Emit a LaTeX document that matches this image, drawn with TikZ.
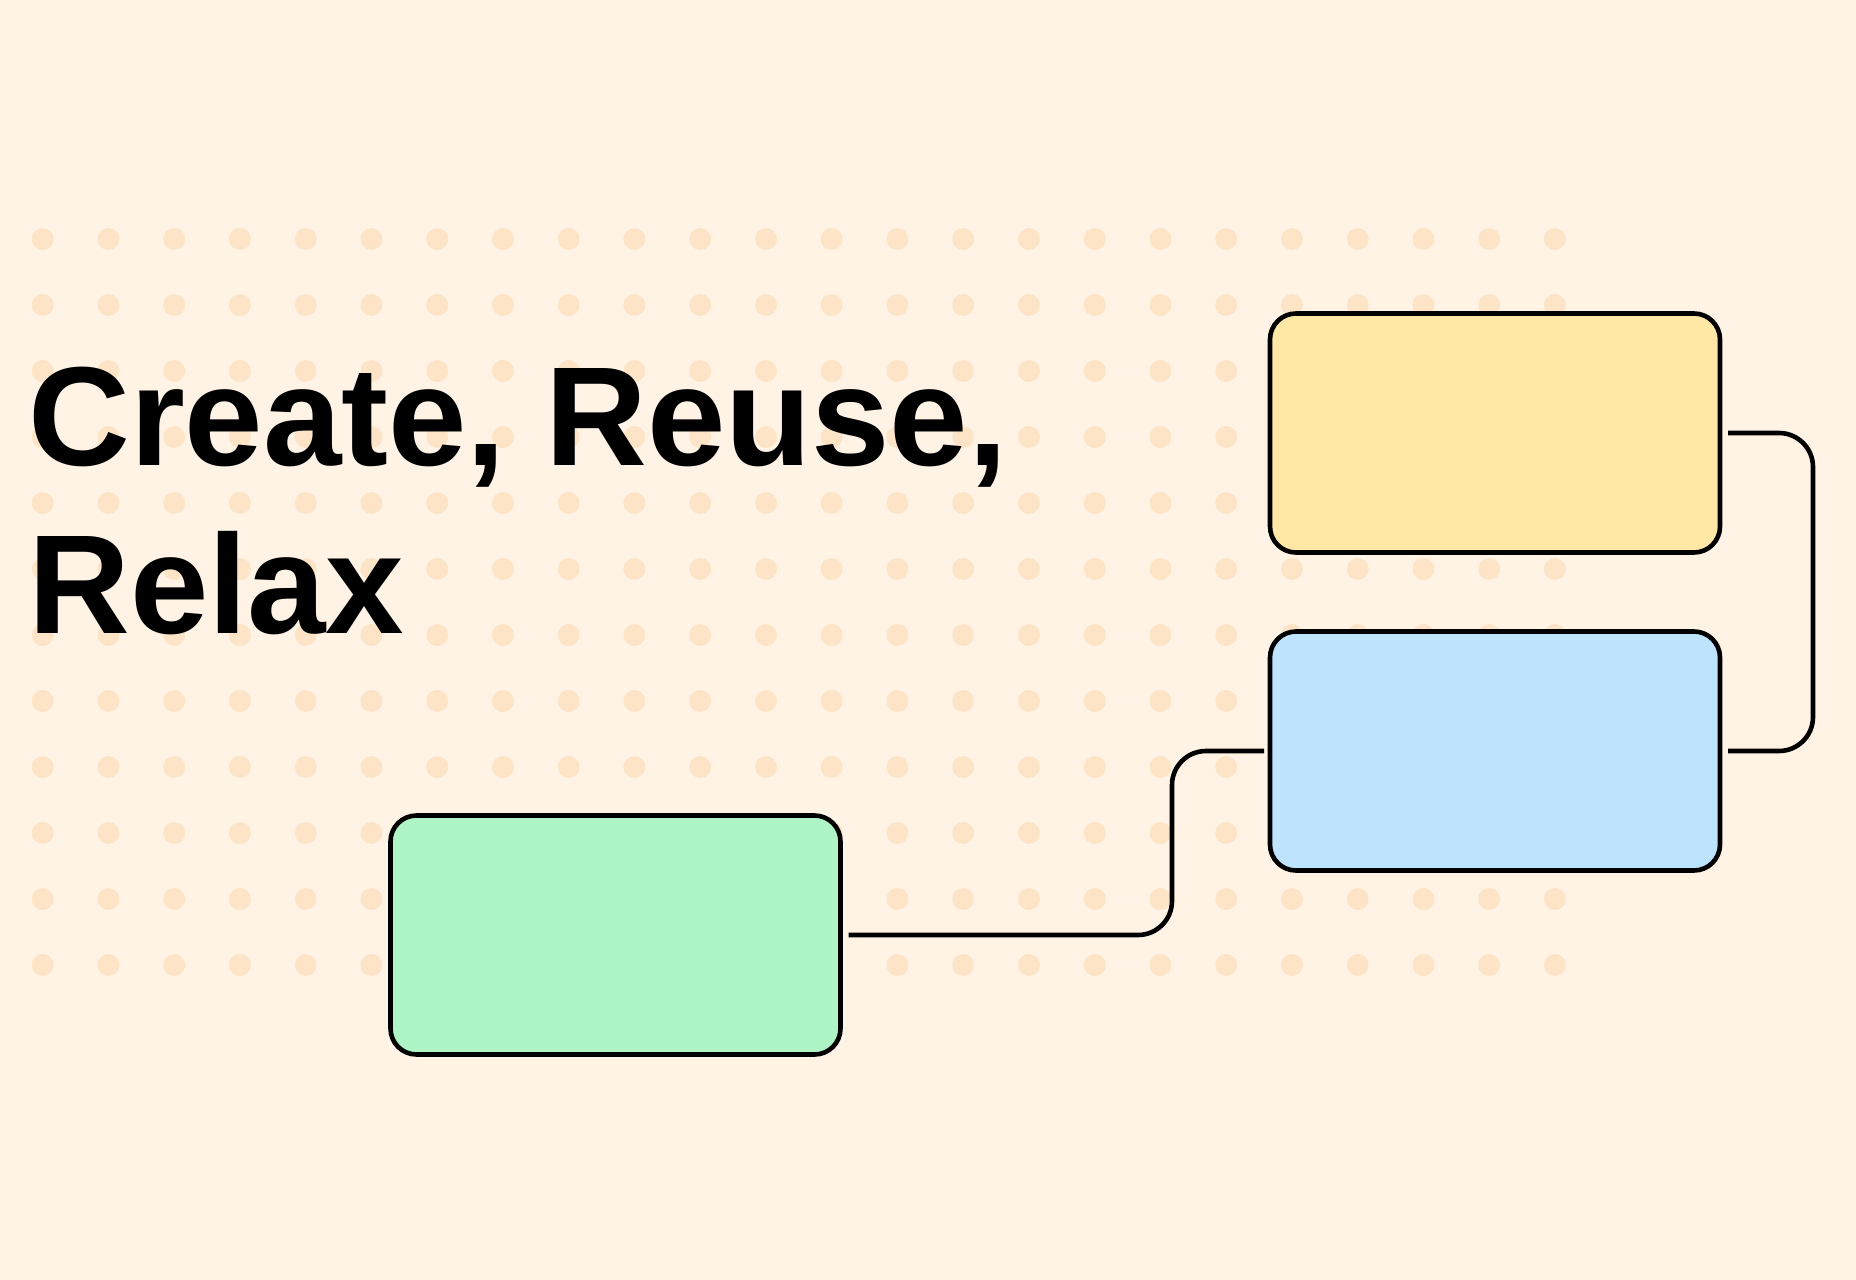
\documentclass[tikz,border=0pt]{standalone}
\usepackage{fontspec}
\setmainfont{Liberation Sans}

\definecolor{paper}{RGB}{255,243,230}
\definecolor{dotpeach}{RGB}{254,228,198}
\definecolor{cardyellow}{RGB}{255,232,166}
\definecolor{cardblue}{RGB}{190,227,253}
\definecolor{cardgreen}{RGB}{175,244,199}

\tikzset{
	card/.style={draw=black, line width=4.6pt, rounded corners=26pt, outer sep=0pt, inner sep=0pt, minimum width=450pt, minimum height=239pt},
	link/.style={draw=black, line width=4.6pt, rounded corners=34pt},
	headline/.style={anchor=base west, inner sep=0pt, font=\bfseries\fontsize{141}{168}\selectfont}
}

\newcommand{\dotgrid}[4]{
	\pgfmathsetmacro{\DGx}{#1}
	\pgfmathsetmacro{\DGy}{#2}
	\foreach \i in {0,...,#3}
		\foreach \j in {0,...,#4}
			\fill[dotpeach] (\DGx + 65.75*\i, \DGy + 66*\j) circle (11pt);
}

\begin{document}
\begin{tikzpicture}[x=1pt,y=-1pt]
\fill[paper] (0,0) rectangle (1856,1280);
\useasboundingbox (0,0) rectangle (1856,1280);

\dotgrid{42.7}{239}{23}{11}

\node[headline] (lineA) at (28,465) {Create, Reuse,};
\node[headline] (lineB) at (28,633) {Relax};

\node[card, fill=cardyellow] (yel) at (1495,433) {};
\node[card, fill=cardblue] (blu) at (1495,751) {};
\node[card, fill=cardgreen] (grn) at (615.5,935) {};

\draw[link] ([xshift=8pt]yel.east) -| ([xshift=93pt]blu.east) -- ([xshift=8pt]blu.east);
\draw[link] ([xshift=8pt]grn.east) -| ([xshift=-98pt]blu.west) -- ([xshift=-6pt]blu.west);
\end{tikzpicture}
\end{document}
